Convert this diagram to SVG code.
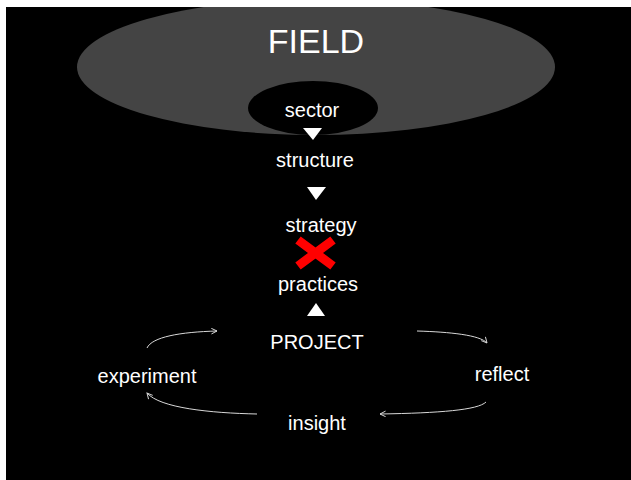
<svg xmlns="http://www.w3.org/2000/svg" width="631" height="480" viewBox="0 0 631 480">
  <style>
    .lbl { font-family: "Liberation Sans", Arial, sans-serif; font-size: 20px; fill: #ffffff; text-anchor: middle; }
    .big { font-size: 34px; }
    .tri { fill: #ffffff; }
    .loop { fill: none; stroke: #d8d8d8; stroke-width: 1; marker-end: url(#chev); }
  </style>
  <defs>
    <marker id="chev" viewBox="0 0 10 10" refX="9" refY="5" markerWidth="7" markerHeight="7" markerUnits="userSpaceOnUse" orient="auto">
      <path d="M1,1 L9,5 L1,9" fill="none" stroke="#d8d8d8" stroke-width="1.4"/>
    </marker>
    <clipPath id="page">
      <rect x="6" y="7" width="625" height="473"/>
    </clipPath>
  </defs>

  <!-- page -->
  <rect width="631" height="480" fill="#ffffff"/>
  <rect x="6" y="7" width="625" height="473" fill="#000000"/>

  <g id="field" clip-path="url(#page)">
    <ellipse cx="316" cy="67" rx="239" ry="68" fill="#444444"/>
    <text class="lbl big" x="316" y="53">FIELD</text>
  </g>

  <g id="sector">
    <ellipse cx="313" cy="108" rx="65" ry="27" fill="#000000"/>
    <text class="lbl" x="312" y="117">sector</text>
  </g>

  <g id="structure">
    <text class="lbl" x="315" y="167">structure</text>
  </g>

  <g id="strategy">
    <text class="lbl" x="321" y="232">strategy</text>
  </g>

  <g id="practices">
    <text class="lbl" x="318" y="291">practices</text>
  </g>

  <g id="project">
    <text class="lbl" x="317" y="349">PROJECT</text>
  </g>

  <g id="experiment">
    <text class="lbl" x="147" y="383">experiment</text>
  </g>

  <g id="reflect">
    <text class="lbl" x="502" y="381">reflect</text>
  </g>

  <g id="insight">
    <text class="lbl" x="317" y="430">insight</text>
  </g>

  <!-- blocked link between strategy and practices -->
  <g id="block">
    <path d="M298,240 L333,266 M333,240 L298,266" stroke="#ff0000" stroke-width="9" stroke-linecap="butt"/>
  </g>

  <g id="connectors">
    <polygon class="tri" points="303,128 322,128 313,140"/>
    <polygon class="tri" points="307,187 326,187 316,200"/>
    <polygon class="tri" points="307,316 325,316 316,303"/>
    <path class="loop" d="M147,348 C152,337 180,332 217,331"/>
    <path class="loop" d="M417,331 C450,332 480,335 487,343"/>
    <path class="loop" d="M486,402 C478,410 440,413 380,414"/>
    <path class="loop" d="M257,414 C210,413 160,408 147,393"/>
  </g>
</svg>
